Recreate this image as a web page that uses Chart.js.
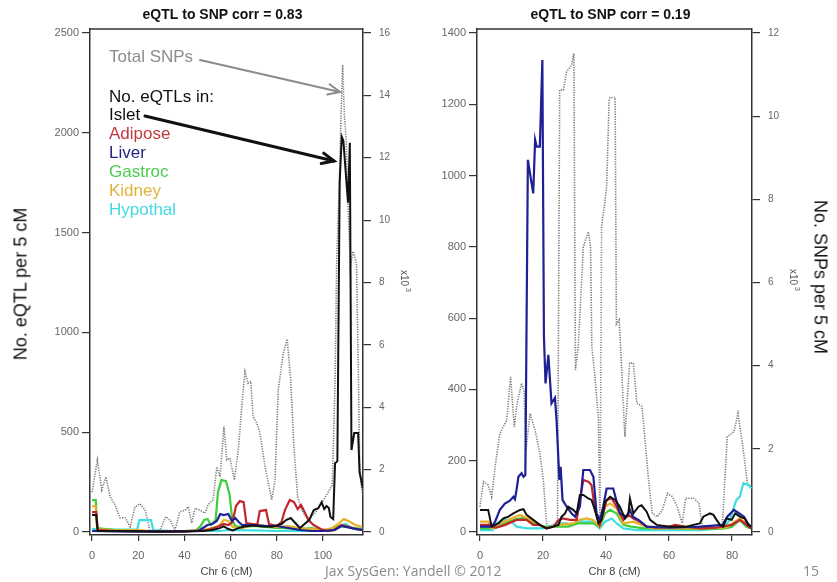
<!DOCTYPE html>
<html>
<head>
<meta charset="utf-8">
<script src="https://cdn.jsdelivr.net/npm/chart.js@4.4.1/dist/chart.umd.min.js"></script>
<style>
  body { margin: 0; background: #fff; }
  #wrap { position: relative; width: 837px; height: 582px; overflow: hidden; font-family: Arial, "Liberation Sans", sans-serif; }
  canvas { position: absolute; top: 0; }
  #c6 { left: 0; }
  #c8 { left: 420px; }
  .vlab { position: absolute; font-size: 18px; color: #111; white-space: nowrap; transform-origin: center center; }
  .foot { position: absolute; top: 561px; font-size: 14px; color: #8a8a8a; white-space: nowrap; font-family: "Open Sans", Arial, sans-serif; }
</style>
</head>
<body>
<div id="wrap">
  <canvas id="c6" width="420" height="582"></canvas>
  <canvas id="c8" width="417" height="582"></canvas>
  <div class="vlab" style="left:21px;top:284px;transform:translate(-50%,-50%) rotate(-90deg)">No. eQTL per 5 cM</div>
  <div class="vlab" style="left:820px;top:277px;transform:translate(-50%,-50%) rotate(90deg)">No. SNPs per 5 cM</div>
  <div class="foot" style="left:325px">Jax SysGen: Yandell © 2012</div>
  <div class="foot" style="left:803px">15</div>
</div>
<script>
// ---- Chr 6 (left panel) ----
const xTicks6 = [0, 20, 40, 60, 80, 100];
const yTicks6 = [0, 500, 1000, 1500, 2000, 2500];
const snpTicks6 = [0, 2, 4, 6, 8, 10, 12, 14, 16];

// total SNPs, thousands per 5 cM
const snp6X = [0, 2.3, 4.2, 6, 7.8, 10, 12.1, 14.3, 16.5, 18.6, 20.8, 23, 25, 27.3, 29.4, 31.9, 33.8, 35.9, 38, 40.3, 41.7, 43.1, 44.6, 46.8, 48.9, 50.2, 52.4, 54, 55.4, 57.1, 58.3, 59.7, 61.6, 63.3, 64.8, 66.2, 67.5, 68.7, 69.7, 71.3, 72.7, 74.9, 77.8, 79.2, 80.6, 82.8, 84.5, 86, 87.4, 89, 90.8, 93.5, 96.5, 99.4, 102.3, 104, 105.2, 105.9, 107.1, 107.7, 108.5, 109.2, 110, 110.9, 111.8, 113, 114.5, 115.3, 115.9, 116.5, 117.2];
const snp6Y = [1.28, 2.31, 1.35, 1.77, 1.13, 0.87, 0.45, 0.46, 0.17, 0.81, 0.9, 0.7, 0.06, 0, 0.06, 0.49, 0.38, 0.06, 0.65, 0.7, 0.81, 0.29, 0.76, 0.7, 0.6, 0.87, 1.03, 2.09, 1.77, 3.38, 2.31, 2.37, 1.67, 2.63, 4.02, 5.14, 4.77, 4.83, 3.7, 3.49, 3.17, 2.09, 1.03, 1.67, 4.55, 5.74, 6.19, 4.87, 2.74, 1.13, 0.7, 0.38, 0.6, 0.92, 1.29, 1.5, 4.8, 8.6, 11.3, 13.1, 14.97, 13.4, 12.57, 10.4, 8.5, 9, 8.6, 5, 2.2, 1.5, 1.2];

const islet6X = [0, 1.8, 2.4, 10, 20, 30, 40, 48, 52, 55, 57, 59, 61, 63, 66, 70, 74, 78, 82, 84, 86, 88, 90, 92, 94, 96, 98, 99.4, 100.5, 101.5, 102.5, 103.2, 104.4, 105.2, 106.2, 107.2, 108.1, 108.8, 110.8, 111.6, 112.3, 113.5, 115.2, 115.8, 116.5, 117.2];
const islet6Y = [85, 85, 5, 5, 4, 2, 3, 5, 10, 18, 28, 15, 8, 18, 28, 32, 28, 26, 40, 60, 70, 45, 20, 40, 60, 110, 120, 150, 115, 130, 120, 75, 65, 345, 355, 1750, 1980, 1960, 1650, 1950, 411, 496, 496, 300, 260, 220];

const adip6X = [0, 1.8, 2.5, 10, 20, 30, 40, 50, 54, 57, 59, 60.8, 62.3, 64, 65.6, 66.8, 70, 71.6, 72.6, 75.3, 76.6, 80, 82, 83.5, 85.6, 87.4, 89, 90.5, 92, 93.7, 95.9, 99, 102, 105, 108, 110, 114, 117];
const adip6Y = [100, 100, 10, 5, 3, 3, 3, 10, 25, 40, 35, 50, 130, 155, 150, 45, 38, 40, 105, 110, 40, 30, 50, 110, 160, 150, 115, 135, 100, 60, 35, 15, 5, 10, 35, 30, 15, 10];

const liver6X = [0, 10, 30, 46, 48, 50, 52, 54, 55.5, 57, 59, 60.5, 62, 63.5, 65, 70, 76, 80, 85, 90, 95, 100, 105, 108, 112, 117];
const liver6Y = [5, 3, 2, 5, 20, 35, 40, 55, 90, 85, 90, 55, 70, 50, 35, 35, 30, 30, 20, 10, 5, 5, 10, 30, 20, 10];

const gast6X = [0, 1.6, 2.2, 10, 20, 30, 40, 45, 47, 48.5, 50, 51.5, 53.5, 54.5, 56, 58, 59.5, 60.7, 62, 66, 70, 80, 90, 95, 100, 104, 107, 110, 114, 117];
const gast6Y = [160, 160, 20, 10, 5, 5, 5, 8, 30, 60, 65, 35, 60, 200, 260, 255, 190, 60, 30, 25, 30, 20, 15, 20, 10, 10, 30, 25, 20, 15];

const kid6X = [0, 1.5, 2.2, 10, 20, 25, 30, 40, 48, 52, 55, 57, 59, 61, 65, 70, 75, 80, 85, 90, 95, 100, 104, 107, 109, 111, 114, 117];
const kid6Y = [130, 130, 15, 8, 10, 5, 3, 5, 10, 20, 30, 60, 55, 25, 20, 40, 30, 25, 30, 20, 15, 10, 20, 45, 65, 55, 35, 25];

const hyp6X = [0, 10, 19.5, 20.5, 25.5, 26.5, 35, 45, 55, 60, 70, 80, 90, 100, 105, 108, 110, 113, 117];
const hyp6Y = [15, 12, 12, 60, 60, 10, 5, 5, 5, 10, 8, 5, 5, 5, 10, 35, 40, 15, 10];

// ---- Chr 8 (right panel) ----
const xTicks8 = [0, 20, 40, 60, 80];
const yTicks8 = [0, 200, 400, 600, 800, 1000, 1200, 1400];
const snpTicks8 = [0, 2, 4, 6, 8, 10, 12];

const snp8X = [0, 1.1, 2.6, 3.7, 4.8, 6.3, 8.5, 9.7, 10.9, 11.6, 13.2, 14, 14.6, 15.9, 17.5, 19, 20.1, 21.2, 23.8, 24.6, 25.3, 26.5, 27.5, 29.1, 29.8, 30.3, 31.2, 32.8, 34.4, 35.1, 35.5, 36.5, 37.6, 38.1, 38.6, 39.7, 40.2, 41, 41.3, 42.9, 43.3, 44.2, 45, 46, 47.5, 48.7, 49.8, 51.4, 52.5, 53.6, 54.7, 56.3, 57.9, 59.5, 61.1, 62.6, 64.2, 65.3, 67.9, 69.5, 70.6, 76.9, 78.5, 80.6, 81.9, 83.3, 84.9, 86];
const snp8Y = [0.61, 1.21, 1.13, 0.85, 1.57, 2.37, 2.69, 3.73, 2.53, 3.01, 3.58, 3.4, 1.97, 2.85, 2.45, 1.89, 1.25, 0.13, 0.13, 0.3, 10.63, 10.63, 11.07, 11.23, 11.51, 3.9, 4.46, 6.86, 7.22, 6.86, 4.46, 3.73, 2.69, 0.2, 7.34, 7.98, 8.3, 10.39, 10.45, 10.45, 5.0, 5.1, 3.9, 2.29, 4.06, 4.06, 3.1, 3.02, 2.13, 1.17, 0.45, 0.37, 0.53, 0.93, 0.85, 0.61, 0.21, 0.81, 0.81, 0.69, 0.13, 0.13, 2.29, 2.41, 2.85, 2.13, 1.17, 1.1];

const liv8X = [0, 3.7, 4.8, 6.3, 7.9, 9.5, 10.6, 11.1, 11.6, 12.2, 13.2, 13.8, 14.4, 15.2, 16.9, 17.5, 18, 19, 19.8, 20.3, 20.8, 21.7, 22.7, 23.8, 24.3, 25.2, 25.6, 26.2, 27.5, 29.1, 30.2, 31.7, 32.8, 34.9, 36, 37, 38.1, 39.1, 40.2, 42.3, 43.4, 44.4, 46.5, 47.6, 48.5, 50.3, 52.9, 60, 70, 77, 78.5, 80.6, 82.3, 83.8, 84.9, 86];
const liv8Y = [15, 15, 29, 62, 80, 88, 99, 92, 118, 155, 165, 155, 160, 1044, 950, 1100, 1081, 1081, 1324, 548, 417, 497, 361, 376, 314, 146, 183, 90, 71, 52, 43, 71, 174, 174, 155, 52, 34, 71, 122, 122, 85, 52, 43, 62, 43, 34, 15, 12, 15, 20, 43, 62, 52, 43, 25, 15];

const isl8X = [0, 2.6, 3.7, 5.8, 7.4, 9, 10.6, 12.7, 13.8, 14.8, 16.9, 19, 21.2, 23.3, 24.9, 25.9, 27, 28, 29.6, 30.7, 31.7, 32.8, 34.4, 35.4, 36.5, 37.6, 38.6, 39.7, 41.3, 42.9, 44.4, 46, 47.1, 47.6, 48.7, 50.3, 51.3, 52.9, 54, 56.1, 60.3, 65.6, 67.7, 69.8, 70.9, 73, 74.1, 75.1, 76.2, 77.2, 78.3, 79.9, 81, 82.5, 84.1, 85.2, 86];
const isl8Y = [62, 62, 15, 24, 38, 43, 52, 62, 64, 48, 34, 20, 10, 15, 20, 43, 52, 71, 62, 52, 104, 104, 94, 90, 62, 24, 34, 85, 99, 90, 71, 38, 52, 94, 52, 71, 75, 57, 34, 20, 15, 15, 20, 24, 43, 52, 48, 34, 20, 15, 38, 34, 52, 43, 38, 20, 15];

const adi8X = [0, 3, 5, 8, 11.6, 14.8, 16.9, 19, 21, 23.3, 25, 26.2, 28.6, 30.7, 31.7, 32.8, 34.4, 35.4, 36.5, 38, 39.1, 40.2, 41.8, 43.4, 45.5, 47.1, 48.7, 50.8, 52.9, 56, 60, 62, 65, 70, 75, 79.9, 82.5, 84.6, 86];
const adi8Y = [20, 20, 12, 20, 34, 34, 20, 20, 10, 15, 34, 38, 34, 34, 90, 146, 141, 132, 62, 20, 52, 90, 94, 71, 34, 48, 38, 29, 15, 12, 15, 20, 15, 10, 12, 20, 34, 20, 10];

const gas8X = [0, 3, 4.3, 8, 11, 14, 17, 20, 24, 28, 31, 33, 36, 38, 39.7, 41.3, 43.4, 45.5, 48, 52, 60, 70, 78, 80, 82.5, 84.5, 86];
const gas8Y = [10, 10, 15, 25, 35, 40, 25, 15, 15, 15, 24, 24, 24, 15, 52, 62, 52, 20, 15, 10, 10, 8, 10, 15, 34, 15, 10];

const kid8X = [0, 2.6, 3.7, 6.3, 12.7, 14.8, 19, 21.2, 25, 29.6, 31.7, 33.8, 35.9, 38, 39.7, 41.3, 43.4, 45.5, 48.7, 51.3, 55, 60, 70, 78, 82.5, 85.2, 86];
const kid8Y = [29, 29, 10, 24, 48, 40, 20, 10, 20, 24, 34, 38, 34, 15, 71, 80, 66, 24, 29, 20, 10, 10, 10, 12, 38, 20, 15];

const hyp8X = [0, 4, 5.3, 7.4, 9.5, 11.6, 15, 20, 25, 27.5, 29, 31, 36, 38, 39.7, 41.8, 43.4, 45.5, 50, 60, 70, 77.2, 79.3, 81.4, 82.5, 83.6, 85.2, 86.2];
const hyp8Y = [5, 5, 24, 34, 34, 15, 10, 10, 24, 24, 20, 29, 29, 10, 29, 38, 24, 10, 5, 5, 5, 10, 34, 90, 99, 137, 132, 122];

const COL = {
  islet: '#111111', adipose: '#c2272d', liver: '#1f1f96', gastroc: '#3fcc3f',
  kidney: '#e6b22a', hypothal: '#3fdede', snp: '#7a7a7a'
};

const pts = (xs, ys) => xs.map((x, i) => ({ x, y: ys[i] }));

function line(label, xs, ys, color, axis, extra) {
  return Object.assign({
    label, data: pts(xs, ys), borderColor: color, backgroundColor: color,
    borderWidth: 2.2, pointRadius: 0, tension: 0, yAxisID: axis, fill: false
  }, extra || {});
}

function axis(pos, min, max, ticks, width, size, pad) {
  return {
    type: 'linear', position: pos, min, max,
    afterBuildTicks: s => { s.ticks = ticks.map(v => ({ value: v })); },
    afterFit: s => { s.width = width; },
    grid: { drawOnChartArea: false, drawTicks: true, tickLength: 8, color: '#333', lineWidth: 1.2 },
    border: { display: true, color: '#333', width: 1.5 },
    ticks: { color: '#666', font: { size: size, family: 'Arial' }, padding: pad, callback: v => String(v) }
  };
}

function arrow(ctx, x1, y1, x2, y2, color, w) {
  ctx.strokeStyle = color; ctx.lineWidth = w; ctx.lineCap = 'round';
  ctx.beginPath(); ctx.moveTo(x1, y1); ctx.lineTo(x2, y2); ctx.stroke();
  const a = Math.atan2(y2 - y1, x2 - x1), L = 13, sp = 0.42;
  ctx.beginPath();
  ctx.moveTo(x2 - L * Math.cos(a - sp), y2 - L * Math.sin(a - sp));
  ctx.lineTo(x2, y2);
  ctx.lineTo(x2 - L * Math.cos(a + sp), y2 - L * Math.sin(a + sp));
  ctx.stroke();
}

function deco(title, xTitle, kx, ky, legend) {
  return {
    id: 'deco',
    afterDraw(chart) {
      const ctx = chart.ctx, a = chart.chartArea;
      ctx.save();
      // top edge of the box
      ctx.strokeStyle = '#333'; ctx.lineWidth = 1.5;
      ctx.beginPath(); ctx.moveTo(a.left, a.top); ctx.lineTo(a.right, a.top); ctx.stroke();

      ctx.textAlign = 'center'; ctx.textBaseline = 'middle';
      ctx.fillStyle = '#111'; ctx.font = 'bold 14px Arial';
      ctx.fillText(title, (a.left + a.right) / 2 - 4, 15);
      ctx.fillStyle = '#444'; ctx.font = '11px Arial';
      ctx.fillText(xTitle, (a.left + a.right) / 2, 572);

      // x10^3 on the SNP axis
      ctx.save();
      ctx.translate(kx, ky); ctx.rotate(Math.PI / 2);
      ctx.fillStyle = '#555'; ctx.textAlign = 'left'; ctx.textBaseline = 'middle';
      ctx.font = '10px Arial';
      ctx.fillText('x10', -13, 0);
      ctx.font = '7px Arial';
      ctx.fillText('3', 5, -4);
      ctx.restore();

      if (legend) legend(ctx);
      ctx.restore();
    }
  };
}

function legend6(ctx) {
  const rows = [
    ['Total SNPs', '#8c8c8c', 57], ['No. eQTLs in:', '#111', 97], ['Islet', '#111', 115],
    ['Adipose', '#c0393f', 134], ['Liver', '#262680', 153], ['Gastroc', '#4ccc4c', 172],
    ['Kidney', '#e2b23c', 191], ['Hypothal', '#44dae0', 210]
  ];
  ctx.textAlign = 'left'; ctx.textBaseline = 'middle'; ctx.font = '17px Arial';
  rows.forEach(r => { ctx.fillStyle = r[1]; ctx.fillText(r[0], 109, r[2]); });
  arrow(ctx, 200, 60, 340, 92, '#8c8c8c', 2);
  arrow(ctx, 145, 116, 334, 161, '#111', 3);
}

function makePanel(id, cfg) {
  new Chart(document.getElementById(id), {
    type: 'line',
    data: { datasets: cfg.sets },
    options: {
      responsive: false, animation: false, devicePixelRatio: 1,
      layout: { padding: { top: 29, left: 0, right: 0, bottom: 0 } },
      plugins: { legend: { display: false }, title: { display: false }, tooltip: { enabled: false } },
      scales: {
        x: {
          type: 'linear', min: cfg.xMin, max: cfg.xMax,
          afterBuildTicks: s => { s.ticks = cfg.xTicks.map(v => ({ value: v })); },
          afterFit: s => { s.height = 47; },
          grid: { drawOnChartArea: false, drawTicks: true, tickLength: 6, color: '#333', lineWidth: 1.2 },
          border: { display: true, color: '#333', width: 1.5 },
          ticks: { color: '#666', font: { size: 11, family: 'Arial' }, padding: 8, maxRotation: 0, callback: v => String(v) }
        },
        y: axis('left', cfg.yMin, cfg.yMax, cfg.yTicks, cfg.yW, 11, 3),
        y1: axis('right', cfg.sMin, cfg.sMax, cfg.sTicks, cfg.sW, 10, 8)
      }
    },
    plugins: [deco(cfg.title, cfg.xTitle, cfg.kx, cfg.ky, cfg.legend)]
  });
}

const dotted = { borderWidth: 1.6, borderDash: [1.2, 1.3] };

makePanel('c6', {
  title: 'eQTL to SNP corr = 0.83', xTitle: 'Chr 6 (cM)', kx: 404, ky: 283, legend: legend6,
  xMin: -0.9, xMax: 117.3, xTicks: xTicks6,
  yMin: -15, yMax: 2520, yTicks: yTicks6, yW: 90,
  sMin: -0.096, sMax: 16.128, sTicks: snpTicks6, sW: 57,
  sets: [
    line('Islet', islet6X, islet6Y, COL.islet, 'y', { borderWidth: 2 }),
    line('Liver', liver6X, liver6Y, COL.liver, 'y'),
    line('Adipose', adip6X, adip6Y, COL.adipose, 'y'),
    line('Kidney', kid6X, kid6Y, COL.kidney, 'y'),
    line('Gastroc', gast6X, gast6Y, COL.gastroc, 'y'),
    line('Hypothal', hyp6X, hyp6Y, COL.hypothal, 'y'),
    line('Total SNPs', snp6X, snp6Y, COL.snp, 'y1', dotted)
  ]
});

makePanel('c8', {
  title: 'eQTL to SNP corr = 0.19', xTitle: 'Chr 8 (cM)', kx: 373, ky: 282,
  xMin: -0.95, xMax: 86.35, xTicks: xTicks8,
  yMin: -8.4, yMax: 1411, yTicks: yTicks8, yW: 57,
  sMin: -0.072, sMax: 12.096, sTicks: snpTicks8, sW: 85,
  sets: [
    line('Islet', isl8X, isl8Y, COL.islet, 'y', { borderWidth: 2 }),
    line('Liver', liv8X, liv8Y, COL.liver, 'y'),
    line('Adipose', adi8X, adi8Y, COL.adipose, 'y'),
    line('Kidney', kid8X, kid8Y, COL.kidney, 'y'),
    line('Gastroc', gas8X, gas8Y, COL.gastroc, 'y'),
    line('Hypothal', hyp8X, hyp8Y, COL.hypothal, 'y'),
    line('Total SNPs', snp8X, snp8Y, COL.snp, 'y1', dotted)
  ]
});
</script>
</body>
</html>
